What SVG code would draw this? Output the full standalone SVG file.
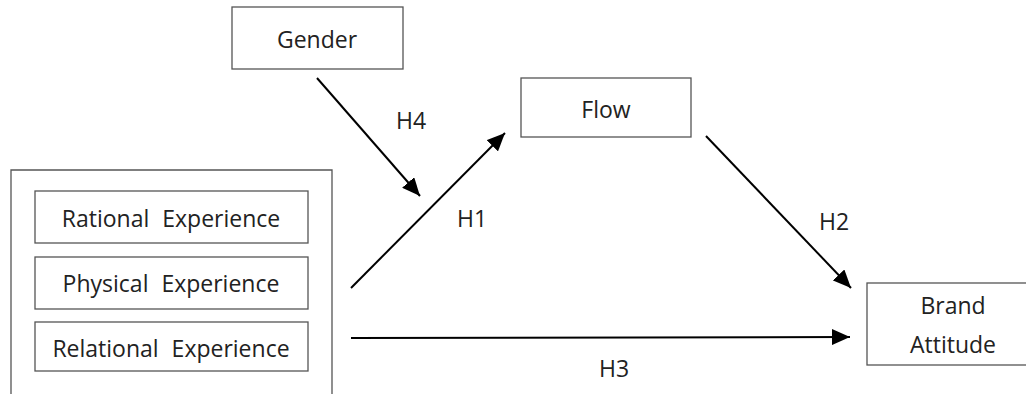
<svg xmlns="http://www.w3.org/2000/svg" width="1026" height="394" viewBox="0 0 1026 394">
<defs>
<style>
.box{fill:#fff;stroke:#555;stroke-width:1.3}
.lbl{font-family:"Open Sans","Noto Sans CJK KR",sans-serif;font-size:23px;fill:#222;text-anchor:middle;word-spacing:7px}
.conn{stroke:#000;stroke-width:2;fill:none;marker-end:url(#ah)}
</style>
<marker id="ah" markerUnits="userSpaceOnUse" markerWidth="20" markerHeight="16" refX="18" refY="8" orient="auto">
<path d="M0,0 L18,8 L0,16 Z" fill="#000"/>
</marker>
</defs>
<rect width="1026" height="394" fill="#fff"/>
<g id="experience">
<path class="box" d="M11,394 V170 H332 V394"/>
</g>
<g id="rational">
<rect class="box" x="35" y="191" width="273" height="52"/>
<text class="lbl" x="171" y="227">Rational Experience</text>
</g>
<g id="physical">
<rect class="box" x="35" y="257" width="273" height="52"/>
<text class="lbl" x="171" y="292">Physical Experience</text>
</g>
<g id="relational">
<rect class="box" x="35" y="322" width="273" height="49"/>
<text class="lbl" x="171" y="357">Relational Experience</text>
</g>
<g id="gender">
<rect class="box" x="232" y="7" width="171" height="62"/>
<text class="lbl" x="317" y="48">Gender</text>
</g>
<g id="flow">
<rect class="box" x="521" y="78" width="170" height="59"/>
<text class="lbl" x="606" y="118">Flow</text>
</g>
<g id="brand">
<rect class="box" x="867" y="283" width="172" height="82"/>
<text class="lbl" x="953" y="314">Brand</text>
<text class="lbl" x="953" y="353">Attitude</text>
</g>
<g id="connectors">
<line class="conn" x1="317" y1="78" x2="420" y2="196"/>
<line class="conn" x1="351" y1="288" x2="505" y2="133"/>
<line class="conn" x1="706" y1="136" x2="851" y2="288"/>
<line class="conn" x1="351" y1="338" x2="850" y2="337"/>
<text class="lbl" x="411" y="129">H4</text>
<text class="lbl" x="472" y="227">H1</text>
<text class="lbl" x="834" y="230">H2</text>
<text class="lbl" x="614" y="377">H3</text>
</g>
</svg>
